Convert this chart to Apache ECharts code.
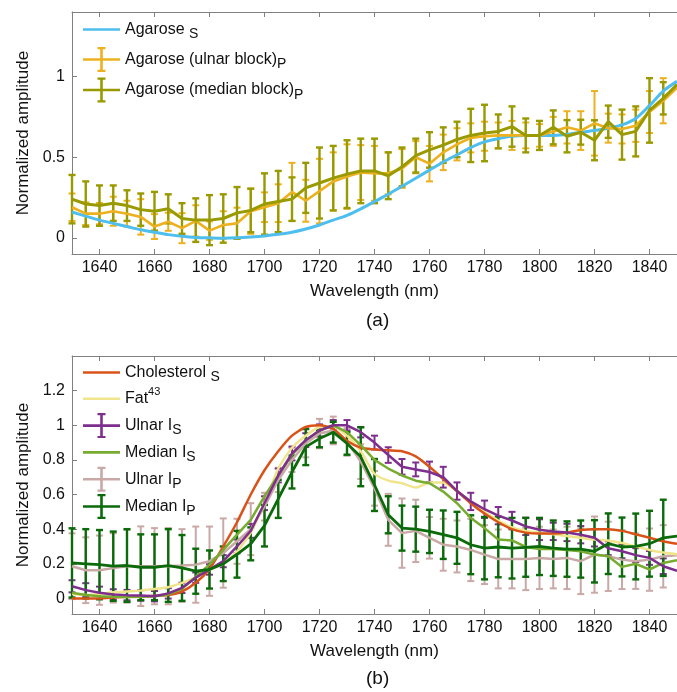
<!DOCTYPE html>
<html>
<head>
<meta charset="utf-8">
<script src="https://cdn.jsdelivr.net/npm/echarts@6.0.0/dist/echarts.min.js"></script>
<style>html,body{margin:0;padding:0;background:#fff;}#c{width:677px;height:692px;}</style>
</head>
<body>
<div id="c"></div>
<script>
// ---------- data ----------
const wavelength = [1630,1635,1640,1645,1650,1655,1660,1665,1670,1675,1680,1685,1690,1695,1700,1705,1710,1715,1720,1725,1730,1735,1740,1745,1750,1755,1760,1765,1770,1775,1780,1785,1790,1795,1800,1805,1810,1815,1820,1825,1830,1835,1840,1845,1850];
const xTicks = [1640,1660,1680,1700,1720,1740,1760,1780,1800,1820,1840];
const yTicksA = [0,0.5,1];
const yTicksB = [0,0.2,0.4,0.6,0.8,1,1.2];

// (a)
const agaroseS = [0.16,0.135,0.11,0.09,0.07,0.05,0.035,0.02,0.01,0.003,0.0,-0.002,0.0,0.005,0.012,0.022,0.035,0.055,0.08,0.11,0.14,0.18,0.225,0.27,0.32,0.37,0.42,0.47,0.515,0.56,0.595,0.615,0.63,0.635,0.635,0.635,0.64,0.655,0.665,0.68,0.70,0.74,0.82,0.91,0.97];
const ulnarBlock = [0.19,0.15,0.15,0.165,0.15,0.13,0.07,0.10,0.06,0.105,0.045,0.08,0.09,0.165,0.19,0.215,0.285,0.23,0.29,0.35,0.38,0.405,0.40,0.40,0.43,0.50,0.46,0.53,0.58,0.62,0.63,0.635,0.635,0.635,0.635,0.66,0.685,0.665,0.71,0.68,0.675,0.695,0.78,0.85,0.93];
const ulnarBlockErr = [0.085,0.07,0.066,0.09,0.08,0.11,0.077,0.056,0.093,0.097,0.057,0.085,0.097,0.14,0.092,0.117,0.18,0.13,0.2,0.18,0.2,0.17,0.17,0.13,0.12,0.1,0.11,0.11,0.1,0.09,0.09,0.08,0.09,0.08,0.07,0.09,0.1,0.12,0.2,0.09,0.09,0.1,0.13,0.14];
const medianBlock = [0.24,0.21,0.20,0.215,0.20,0.175,0.165,0.18,0.12,0.11,0.11,0.12,0.155,0.17,0.21,0.225,0.24,0.31,0.34,0.37,0.395,0.415,0.415,0.385,0.44,0.51,0.545,0.575,0.61,0.635,0.65,0.66,0.69,0.635,0.635,0.685,0.63,0.655,0.605,0.72,0.64,0.66,0.79,0.865,0.95];
const medianBlockErr = [0.15,0.14,0.125,0.11,0.095,0.10,0.12,0.09,0.095,0.135,0.155,0.15,0.16,0.135,0.19,0.19,0.135,0.155,0.22,0.2,0.21,0.2,0.2,0.145,0.12,0.105,0.11,0.11,0.11,0.165,0.175,0.105,0.125,0.105,0.09,0.105,0.1,0.077,0.124,0.1,0.155,0.155,0.2,0.1];

// (b)
const cholesterolS = [0.0,0.0,0.0,0.005,0.01,0.01,0.015,0.02,0.04,0.09,0.17,0.30,0.44,0.60,0.74,0.85,0.94,0.99,1.0,0.98,0.91,0.87,0.86,0.855,0.85,0.82,0.76,0.69,0.62,0.55,0.49,0.44,0.40,0.38,0.375,0.375,0.38,0.395,0.40,0.40,0.39,0.37,0.35,0.33,0.315];
const fat43 = [0.025,0.02,0.025,0.035,0.04,0.045,0.055,0.065,0.09,0.12,0.165,0.2,0.27,0.38,0.55,0.75,0.87,0.94,0.99,0.995,0.94,0.85,0.72,0.68,0.665,0.64,0.67,0.67,0.62,0.56,0.50,0.45,0.41,0.39,0.38,0.37,0.36,0.35,0.34,0.335,0.32,0.30,0.28,0.265,0.255];
const ulnarIS = [0.07,0.048,0.033,0.023,0.019,0.017,0.013,0.029,0.061,0.12,0.167,0.215,0.30,0.39,0.55,0.71,0.837,0.914,0.97,1.0,1.0,0.96,0.90,0.828,0.76,0.745,0.73,0.70,0.62,0.56,0.515,0.478,0.45,0.416,0.397,0.387,0.381,0.368,0.35,0.29,0.272,0.25,0.234,0.186,0.16];
const ulnarISErr = [0.035,0.04,0.035,0.03,0.03,0.03,0.03,0.03,0.03,0.03,0.03,0.035,0.04,0.04,0.04,0.04,0.04,0.04,0.035,0.03,0.03,0.03,0.04,0.045,0.045,0.04,0.06,0.06,0.05,0.05,0.05,0.05,0.05,0.05,0.06,0.05,0.05,0.05,0.05,0.04,0.04,0.04,0.04,0.045];
const medianIS = [0.033,0.02,0.013,0.01,0.008,0.01,0.013,0.023,0.055,0.125,0.195,0.28,0.368,0.454,0.59,0.71,0.83,0.914,0.97,1.0,0.96,0.885,0.80,0.75,0.71,0.68,0.665,0.617,0.55,0.465,0.406,0.34,0.335,0.297,0.285,0.285,0.28,0.272,0.253,0.243,0.182,0.2,0.167,0.205,0.22];
const ulnarIP = [0.186,0.163,0.163,0.176,0.186,0.186,0.186,0.186,0.19,0.195,0.215,0.262,0.33,0.40,0.53,0.684,0.80,0.895,0.952,0.97,0.904,0.79,0.636,0.454,0.377,0.39,0.35,0.31,0.30,0.28,0.253,0.228,0.228,0.228,0.234,0.228,0.234,0.215,0.253,0.243,0.224,0.215,0.224,0.243,0.25];
const ulnarIPErr = [0.19,0.19,0.2,0.2,0.21,0.23,0.22,0.22,0.21,0.22,0.2,0.2,0.13,0.15,0.08,0.07,0.07,0.08,0.085,0.08,0.08,0.1,0.1,0.15,0.2,0.18,0.12,0.15,0.15,0.18,0.17,0.17,0.17,0.18,0.18,0.17,0.18,0.19,0.22,0.2,0.17,0.16,0.18,0.18];
const medianIP = [0.205,0.2,0.195,0.186,0.19,0.18,0.18,0.19,0.176,0.157,0.167,0.2,0.255,0.315,0.42,0.575,0.73,0.875,0.923,0.96,0.895,0.818,0.655,0.483,0.406,0.40,0.387,0.368,0.35,0.31,0.29,0.297,0.29,0.295,0.30,0.29,0.285,0.285,0.272,0.316,0.297,0.30,0.316,0.35,0.36];
const medianIPErr = [0.2,0.2,0.2,0.2,0.21,0.19,0.19,0.21,0.19,0.13,0.11,0.1,0.135,0.095,0.12,0.11,0.095,0.105,0.05,0.06,0.065,0.17,0.15,0.107,0.13,0.13,0.125,0.14,0.15,0.17,0.18,0.175,0.175,0.17,0.165,0.16,0.16,0.165,0.18,0.175,0.17,0.19,0.19,0.22];

// ---------- styling ----------
const FONT = 'Liberation Sans, Arial, Helvetica, sans-serif';
const TXT = '#111';
const AX = '#808080';
const C = {
  blue:'#4DBEEE', orange:'#EDB120', olive:'#999900',
  chol:'#D95319', fat:'#F0E58C', purple:'#7E2F8E', lgreen:'#77AC30', pink:'#C9A9A6', dgreen:'#0B6B0B'
};

function pts(vals){ return wavelength.map((w,i)=>[w, vals[i]]); }
function errPts(vals, errs){ return errs.map((e,i)=>[wavelength[i], vals[i], e]); }

function errRender(color, lw, half){
  return function(params, api){
    const x = api.value(0), y = api.value(1), e = api.value(2);
    const p1 = api.coord([x, y + e]), p2 = api.coord([x, y - e]);
    const st = {stroke: color, lineWidth: lw, fill: null};
    return {type:'group', children:[
      {type:'line', shape:{x1:p1[0], y1:p1[1], x2:p2[0], y2:p2[1]}, style:st},
      {type:'line', shape:{x1:p1[0]-half, y1:p1[1], x2:p1[0]+half, y2:p1[1]}, style:st},
      {type:'line', shape:{x1:p2[0]-half, y1:p2[1], x2:p2[0]+half, y2:p2[1]}, style:st}
    ]};
  };
}
function lineS(name, vals, color, width, xi, yi, smooth){
  return {type:'line', name:name, data:pts(vals), xAxisIndex:xi, yAxisIndex:yi,
    symbol:'none', showSymbol:false, smooth: smooth || false,
    lineStyle:{color:color, width:width}, itemStyle:{color:color},
    emphasis:{disabled:true}, silent:true, clip:true};
}
function errS(name, vals, errs, color, lw, half, xi, yi){
  return {type:'custom', name:name, data:errPts(vals, errs), xAxisIndex:xi, yAxisIndex:yi,
    encode:{x:0, y:1}, renderItem: errRender(color, lw, half), itemStyle:{color:color},
    silent:true, clip:false};
}

function xAx(gi, pos, main){
  return {type:'value', gridIndex:gi, position:pos, min:1630, max:1850,
    axisLine:{show:true, onZero:false, lineStyle:{color:AX, width:1}},
    axisTick:{show:true, inside:true, length:5, customValues:xTicks, lineStyle:{color:AX}},
    axisLabel:{show:main, customValues:xTicks, margin:6, fontSize:16, color:TXT, fontFamily:FONT,
      formatter: v => String(Math.round(v))},
    splitLine:{show:false},
    name: main ? 'Wavelength (nm)' : '', nameLocation:'middle', nameGap:29,
    nameTextStyle:{fontSize:17, color:TXT, fontFamily:FONT}};
}
function yAx(gi, min, ticks){
  return {type:'value', gridIndex:gi, min:min, max:1.4,
    axisLine:{show:true, onZero:false, lineStyle:{color:AX, width:1}},
    axisTick:{show:true, inside:true, length:5, customValues:ticks, lineStyle:{color:AX}},
    axisLabel:{show:true, customValues:ticks, margin:7, fontSize:16, color:TXT, fontFamily:FONT,
      formatter: v => String(Math.round(v * 10) / 10)},
    splitLine:{show:false},
    name:'Normalized amplitude', nameLocation:'middle', nameGap:40,
    nameTextStyle:{fontSize:17, color:TXT, fontFamily:FONT}};
}

const lineIcon = 'path://M0,0H37V2.6H0Z';
const ebIcon = 'path://M0,11.2H37V13.8H0Z M17.2,0H19.8V25H17.2Z M14.5,0H22.5V2.2H14.5Z M14.5,22.8H22.5V25H14.5Z';

const labels = {
  'AgS':'Agarose {sub|S}',
  'AgU':'Agarose (ulnar block){sub|P}',
  'AgM':'Agarose (median block){sub|P}',
  'Chol':'Cholesterol {sub|S}',
  'Fat':'Fat{sup|43}',
  'UIS':'Ulnar I{sub|S}',
  'MIS':'Median I{sub|S}',
  'UIP':'Ulnar I{sub|P}',
  'MIP':'Median I{sub|P}'
};
const legendText = {fontSize:16, color:TXT, fontFamily:FONT, lineHeight:24,
  rich:{
    sub:{fontSize:14, lineHeight:14, verticalAlign:'bottom', color:TXT, fontFamily:FONT},
    sup:{fontSize:11, lineHeight:17, verticalAlign:'top', color:TXT, fontFamily:FONT}
  }};
function legend(top, gap, items){
  return {orient:'vertical', left:83, top:top, padding:0, itemWidth:37, itemHeight:25, itemGap:gap,
    selectedMode:false, itemStyle:{borderWidth:0}, lineStyle:{width:0},
    data: items.map(it=>({name:it[0], icon:it[1]})),
    formatter: n => labels[n], textStyle: legendText};
}

const option = {
  animation:false,
  backgroundColor:'#fff',
  grid:[{left:72, right:-6, top:12, height:242}, {left:72, right:-6, top:356, height:258}],
  xAxis:[xAx(0,'bottom',true), xAx(0,'top',false), xAx(1,'bottom',true), xAx(1,'top',false)],
  yAxis:[yAx(0,-0.1,yTicksA), yAx(1,-0.09,yTicksB)],
  legend:[
    legend(17.5, 5.5, [['AgS',lineIcon],['AgU',ebIcon],['AgM',ebIcon]]),
    legend(360.5, 2.3, [['Chol',lineIcon],['Fat',lineIcon],['UIS',ebIcon],['MIS',lineIcon],['UIP',ebIcon],['MIP',ebIcon]])
  ],
  series:[
    lineS('AgS', agaroseS, C.blue, 3, 0, 0, 0.3),
    errS('AgU', ulnarBlock, ulnarBlockErr, C.orange, 2, 3.5, 0, 0),
    lineS('AgU', ulnarBlock, C.orange, 2.6, 0, 0),
    errS('AgM', medianBlock, medianBlockErr, C.olive, 2.4, 3.5, 0, 0),
    lineS('AgM', medianBlock, C.olive, 3, 0, 0),

    errS('UIP', ulnarIP, ulnarIPErr, C.pink, 2, 3.5, 2, 1),
    lineS('UIP', ulnarIP, C.pink, 2.5, 2, 1),
    lineS('Fat', fat43, C.fat, 2.5, 2, 1, 0.2),
    lineS('Chol', cholesterolS, C.chol, 2.5, 2, 1, 0.2),
    lineS('MIS', medianIS, C.lgreen, 2.5, 2, 1),
    errS('UIS', ulnarIS, ulnarISErr, C.purple, 2, 3.5, 2, 1),
    lineS('UIS', ulnarIS, C.purple, 2.5, 2, 1),
    errS('MIP', medianIP, medianIPErr, C.dgreen, 2.4, 3.5, 2, 1),
    lineS('MIP', medianIP, C.dgreen, 2.8, 2, 1)
  ],
  graphic:[
    {type:'text', left:366, top:311, style:{text:'(a)', fontSize:19, fill:TXT, font:'19px ' + FONT}},
    {type:'text', left:366, top:669, style:{text:'(b)', fontSize:19, fill:TXT, font:'19px ' + FONT}}
  ]
};

const chart = echarts.init(document.getElementById('c'), null, {renderer:'canvas'});
chart.setOption(option);
</script>
</body>
</html>
